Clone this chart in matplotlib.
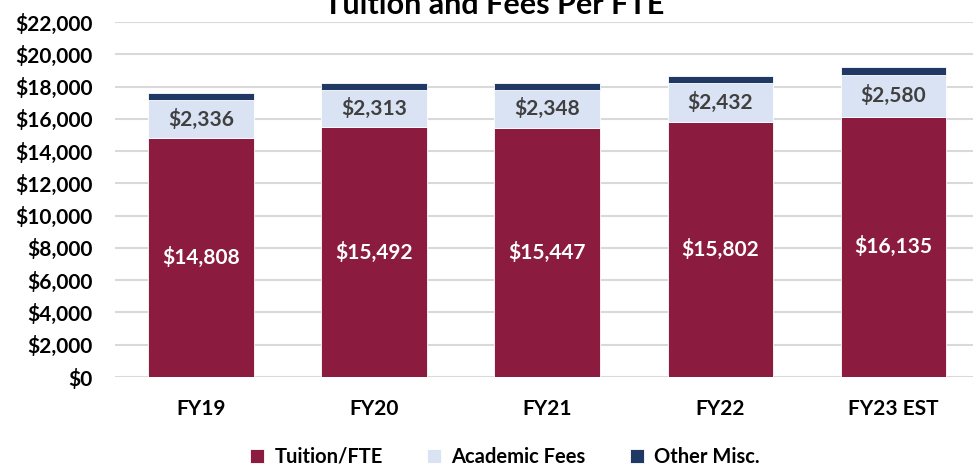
import numpy as np
import matplotlib.pyplot as plt
from matplotlib.ticker import FuncFormatter

years = ['FY19', 'FY20', 'FY21', 'FY22', 'FY23 EST']
tuition = [14808, 15492, 15447, 15802, 16135]
academic = [2336, 2313, 2348, 2432, 2580]
other = [440, 385, 395, 415, 510]

c_tuition = '#8B1C3F'
c_academic = '#DAE3F3'
c_other = '#1F3864'

plt.rcParams['font.family'] = ['Lato', 'DejaVu Sans']

fig = plt.figure(figsize=(9.73, 4.75), dpi=100)
ax = fig.add_axes([0.1177, 0.2063, 0.8823, 0.7474])

x = np.arange(len(years))
w = 0.61
tuition = np.array(tuition)
academic = np.array(academic)
other = np.array(other)

ax.bar(x, tuition, w, color=c_tuition, edgecolor='white', linewidth=0.6, label='Tuition/FTE', zorder=3)
ax.bar(x, academic, w, bottom=tuition, color=c_academic, edgecolor='white', linewidth=0.6,
       label='Academic Fees', zorder=3)
ax.bar(x, other, w, bottom=tuition + academic, color=c_other, edgecolor='white', linewidth=0.6,
       label='Other Misc.', zorder=3)

for i in range(len(years)):
    ax.text(x[i], tuition[i] / 2, '${:,}'.format(tuition[i]), ha='center', va='center',
            color='white', fontsize=15, fontweight='bold', zorder=4)
    ax.text(x[i], tuition[i] + academic[i] / 2, '${:,}'.format(academic[i]), ha='center',
            va='center', color='#404040', fontsize=15, fontweight='bold', zorder=4)

ax.set_ylim(0, 22000)
ax.set_xlim(-0.5, 4.46)
ax.set_yticks(range(0, 22001, 2000))
ax.yaxis.set_major_formatter(FuncFormatter(lambda v, p: '${:,.0f}'.format(v)))
ax.set_xticks(x)
ax.set_xticklabels(years)
ax.grid(axis='y', color='#D9D9D9', linewidth=1.5, zorder=0)
for s in ax.spines.values():
    s.set_visible(False)
ax.tick_params(axis='both', length=0, labelsize=15)
ax.tick_params(axis='x', pad=16)
ax.tick_params(axis='y', pad=16)
for lab in ax.get_xticklabels() + ax.get_yticklabels():
    lab.set_fontweight('bold')

fig.text(0.508, 1 - 14 / 475, 'Tuition and Fees Per FTE', ha='center', va='baseline',
         fontsize=22, fontweight='bold')

leg = fig.legend(loc='center', bbox_to_anchor=(0.519, 0.038), ncol=3, frameon=False,
                 fontsize=14.5, handlelength=0.7, handleheight=0.7, columnspacing=2.2,
                 handletextpad=0.5)
for t in leg.get_texts():
    t.set_fontweight('bold')

plt.savefig('out.png', dpi=100)
